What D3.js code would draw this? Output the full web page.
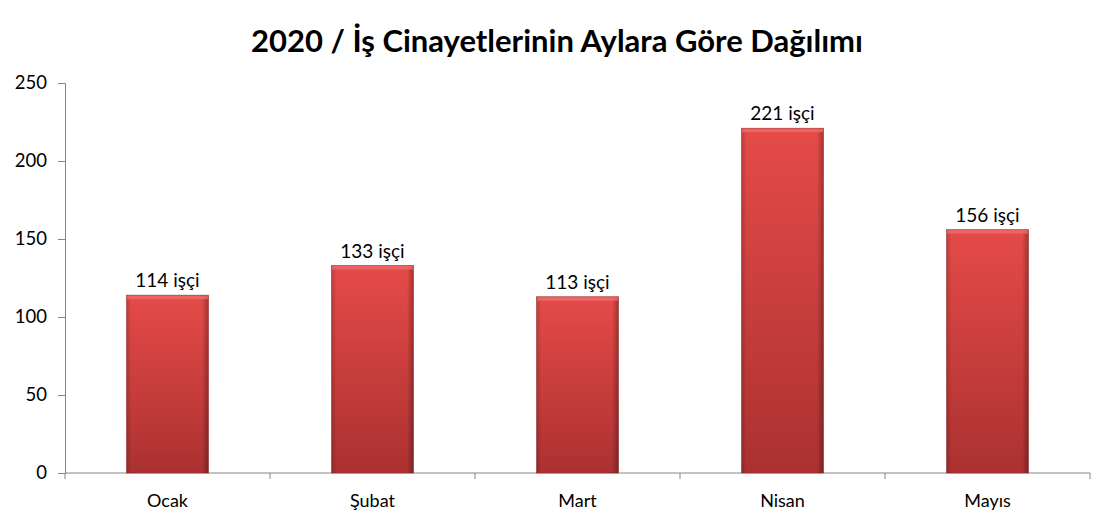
<!DOCTYPE html>
<html>
<head>
<meta charset="utf-8">
<script src="https://cdn.jsdelivr.net/npm/d3@7"></script>
<style>
  body { margin: 0; background: #fff; }
  text { font-family: Lato, "Open Sans", sans-serif; fill: #000; }
</style>
</head>
<body>
<script>
var months = ["Ocak", "Şubat", "Mart", "Nisan", "Mayıs"];
var deaths = [114, 133, 113, 221, 156];
var yTicks = [0, 50, 100, 150, 200, 250];
var title = "2020 / İş Cinayetlerinin Aylara Göre Dağılımı";

var width = 1114, height = 527;
var margin = {top: 83, right: 24, bottom: 54, left: 65};
var innerW = width - margin.left - margin.right;
var innerH = height - margin.top - margin.bottom;

var svg = d3.select("body").append("svg")
  .attr("width", width)
  .attr("height", height);

// gradients for the bevelled red bars
var defs = svg.append("defs");
var vg = defs.append("linearGradient").attr("id", "barFill")
  .attr("x1", 0).attr("y1", 0).attr("x2", 0).attr("y2", 1);
vg.append("stop").attr("offset", "0%").attr("stop-color", "#e54b48");
vg.append("stop").attr("offset", "100%").attr("stop-color", "#ab3131");

var hg = defs.append("linearGradient").attr("id", "barSides")
  .attr("x1", 0).attr("y1", 0).attr("x2", 1).attr("y2", 0);
hg.append("stop").attr("offset", "0%").attr("stop-color", "#000").attr("stop-opacity", 0.18);
hg.append("stop").attr("offset", "6%").attr("stop-color", "#000").attr("stop-opacity", 0);
hg.append("stop").attr("offset", "92%").attr("stop-color", "#000").attr("stop-opacity", 0);
hg.append("stop").attr("offset", "100%").attr("stop-color", "#000").attr("stop-opacity", 0.3);

var x = d3.scaleBand().domain(months).range([0, innerW]).paddingInner(0.6).paddingOuter(0.3);
var y = d3.scaleLinear().domain([0, 250]).range([innerH, 0]);

var main = svg.append("g")
  .attr("transform", "translate(" + margin.left + "," + margin.top + ")");

// title
svg.append("text")
  .attr("x", 557).attr("y", 52)
  .attr("text-anchor", "middle")
  .style("font-size", "31px")
  .style("font-weight", "bold")
  .text(title);

// y axis
var yAxis = d3.axisLeft(y).tickValues(yTicks).tickSize(7).tickPadding(11);
var yg = main.append("g").call(yAxis);
yg.select(".domain").attr("stroke", "#868686");
yg.selectAll(".tick line").attr("stroke", "#868686");
yg.selectAll(".tick text").style("font-size", "18.5px").style("font-family", "Lato, sans-serif");

// x axis with tick marks on the category boundaries
var xg = main.append("g").attr("transform", "translate(0," + innerH + ")");
xg.append("line").attr("x1", 0).attr("x2", innerW).attr("stroke", "#868686");
var bounds = d3.range(months.length + 1).map(function(i) { return i * innerW / months.length; });
xg.selectAll(".bt").data(bounds).enter().append("line")
  .attr("x1", function(d) { return d; }).attr("x2", function(d) { return d; })
  .attr("y1", 0).attr("y2", 6).attr("stroke", "#868686");
xg.selectAll(".lbl").data(months).enter().append("text")
  .attr("x", function(d) { return x(d) + x.bandwidth() / 2; })
  .attr("y", 34)
  .attr("text-anchor", "middle")
  .style("font-size", "18px")
  .text(function(d) { return d; });

// bars
var bars = main.selectAll(".bar").data(deaths).enter().append("g");
bars.append("rect")
  .attr("x", function(d, i) { return x(months[i]); })
  .attr("y", function(d) { return y(d); })
  .attr("width", x.bandwidth())
  .attr("height", function(d) { return innerH - y(d); })
  .attr("fill", "url(#barFill)");
bars.append("rect")
  .attr("x", function(d, i) { return x(months[i]); })
  .attr("y", function(d) { return y(d); })
  .attr("width", x.bandwidth())
  .attr("height", function(d) { return innerH - y(d); })
  .attr("fill", "url(#barSides)");
// light top bevel
bars.append("rect")
  .attr("x", function(d, i) { return x(months[i]); })
  .attr("y", function(d) { return y(d); })
  .attr("width", x.bandwidth())
  .attr("height", 4)
  .attr("fill", "#f07070").attr("opacity", 0.7);
bars.append("rect")
  .attr("x", function(d, i) { return x(months[i]); })
  .attr("y", function(d) { return y(d); })
  .attr("width", x.bandwidth())
  .attr("height", function(d) { return innerH - y(d); })
  .attr("fill", "none").attr("stroke", "#8a2424").attr("stroke-width", 0.8).attr("stroke-opacity", 0.6);

// value labels
bars.append("text")
  .attr("x", function(d, i) { return x(months[i]) + x.bandwidth() / 2; })
  .attr("y", function(d) { return y(d) - 8; })
  .attr("text-anchor", "middle")
  .style("font-size", "19px")
  .text(function(d) { return d + " işçi"; });
</script>
</body>
</html>
